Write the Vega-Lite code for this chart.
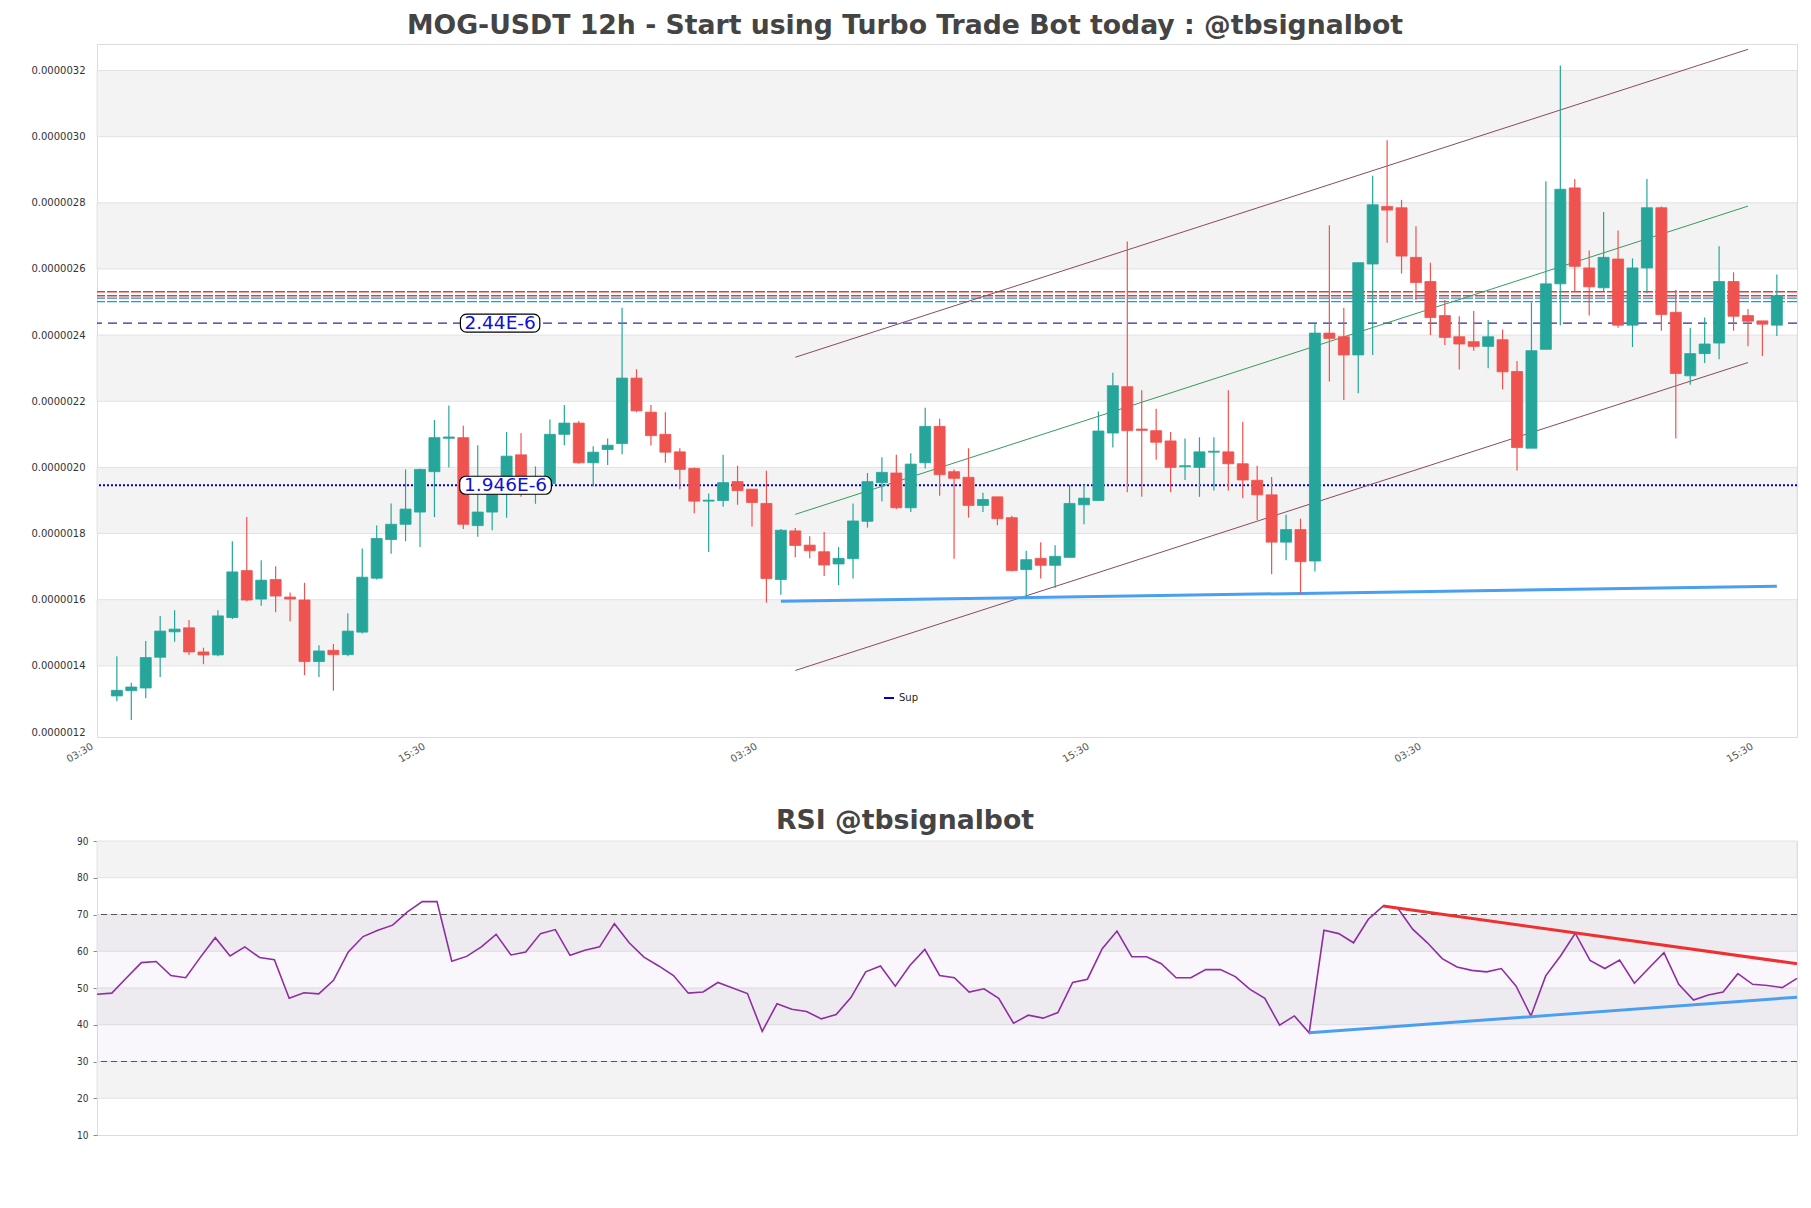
{
  "$schema": "https://vega.github.io/schema/vega-lite/v6.json",
  "background": "white",
  "padding": {"left": 30, "top": 12, "right": 10, "bottom": 5},
  "spacing": 42,
  "config": {
    "view": {"stroke": "#dcdcdc", "strokeWidth": 1},
    "font": "DejaVu Sans",
    "axis": {"grid": false, "domain": false, "title": null}
  },
  "resolve": {"scale": {"x": "independent", "y": "independent", "color": "independent"}},
  "datasets": {
    "candles": [
      {"i":0,"o":13.09e-7,"h":14.29e-7,"l":12.93e-7,"c":13.26e-7},
      {"i":1,"o":13.25e-7,"h":13.49e-7,"l":12.36e-7,"c":13.36e-7},
      {"i":2,"o":13.33e-7,"h":14.75e-7,"l":13.02e-7,"c":14.25e-7},
      {"i":3,"o":14.26e-7,"h":15.51e-7,"l":13.66e-7,"c":15.05e-7},
      {"i":4,"o":15.03e-7,"h":15.68e-7,"l":14.73e-7,"c":15.11e-7},
      {"i":5,"o":15.15e-7,"h":15.39e-7,"l":14.33e-7,"c":14.42e-7},
      {"i":6,"o":14.42e-7,"h":14.55e-7,"l":14.05e-7,"c":14.33e-7},
      {"i":7,"o":14.33e-7,"h":15.68e-7,"l":14.29e-7,"c":15.51e-7},
      {"i":8,"o":15.46e-7,"h":17.77e-7,"l":15.42e-7,"c":16.84e-7},
      {"i":9,"o":16.88e-7,"h":18.5e-7,"l":15.95e-7,"c":15.99e-7},
      {"i":10,"o":16.02e-7,"h":17.19e-7,"l":15.82e-7,"c":16.59e-7},
      {"i":11,"o":16.61e-7,"h":17.01e-7,"l":15.62e-7,"c":16.11e-7},
      {"i":12,"o":16.08e-7,"h":16.22e-7,"l":15.35e-7,"c":16.02e-7},
      {"i":13,"o":15.99e-7,"h":16.51e-7,"l":13.72e-7,"c":14.13e-7},
      {"i":14,"o":14.13e-7,"h":14.62e-7,"l":13.66e-7,"c":14.45e-7},
      {"i":15,"o":14.47e-7,"h":14.66e-7,"l":13.25e-7,"c":14.34e-7},
      {"i":16,"o":14.34e-7,"h":15.59e-7,"l":14.29e-7,"c":15.05e-7},
      {"i":17,"o":15.02e-7,"h":17.55e-7,"l":14.98e-7,"c":16.68e-7},
      {"i":18,"o":16.65e-7,"h":18.24e-7,"l":16.61e-7,"c":17.85e-7},
      {"i":19,"o":17.82e-7,"h":18.91e-7,"l":17.39e-7,"c":18.28e-7},
      {"i":20,"o":18.28e-7,"h":19.94e-7,"l":17.77e-7,"c":18.74e-7},
      {"i":21,"o":18.65e-7,"h":19.96e-7,"l":17.59e-7,"c":19.94e-7},
      {"i":22,"o":19.87e-7,"h":21.43e-7,"l":18.5e-7,"c":20.9e-7},
      {"i":23,"o":20.88e-7,"h":21.87e-7,"l":20.0e-7,"c":20.92e-7},
      {"i":24,"o":20.9e-7,"h":21.26e-7,"l":18.14e-7,"c":18.28e-7},
      {"i":25,"o":18.24e-7,"h":20.67e-7,"l":17.9e-7,"c":18.65e-7},
      {"i":26,"o":18.65e-7,"h":19.3e-7,"l":18.1e-7,"c":19.18e-7},
      {"i":27,"o":19.18e-7,"h":21.07e-7,"l":18.48e-7,"c":20.34e-7},
      {"i":28,"o":20.38e-7,"h":21.03e-7,"l":19.11e-7,"c":19.2e-7},
      {"i":29,"o":19.43e-7,"h":20.03e-7,"l":18.9e-7,"c":19.6e-7},
      {"i":30,"o":19.51e-7,"h":21.45e-7,"l":19.47e-7,"c":21.0e-7},
      {"i":31,"o":21.0e-7,"h":21.89e-7,"l":20.67e-7,"c":21.34e-7},
      {"i":32,"o":21.34e-7,"h":21.4e-7,"l":20.11e-7,"c":20.14e-7},
      {"i":33,"o":20.14e-7,"h":20.64e-7,"l":19.43e-7,"c":20.46e-7},
      {"i":34,"o":20.54e-7,"h":20.87e-7,"l":20.07e-7,"c":20.67e-7},
      {"i":35,"o":20.72e-7,"h":24.83e-7,"l":20.4e-7,"c":22.7e-7},
      {"i":36,"o":22.7e-7,"h":22.97e-7,"l":21.67e-7,"c":21.71e-7},
      {"i":37,"o":21.67e-7,"h":21.89e-7,"l":20.66e-7,"c":20.96e-7},
      {"i":38,"o":21.0e-7,"h":21.67e-7,"l":20.14e-7,"c":20.46e-7},
      {"i":39,"o":20.47e-7,"h":20.58e-7,"l":19.34e-7,"c":19.94e-7},
      {"i":40,"o":19.97e-7,"h":20.0e-7,"l":18.61e-7,"c":18.98e-7},
      {"i":41,"o":18.98e-7,"h":19.21e-7,"l":17.44e-7,"c":19.01e-7},
      {"i":42,"o":19.0e-7,"h":20.38e-7,"l":18.81e-7,"c":19.54e-7},
      {"i":43,"o":19.57e-7,"h":20.05e-7,"l":18.87e-7,"c":19.3e-7},
      {"i":44,"o":19.34e-7,"h":19.34e-7,"l":18.21e-7,"c":18.94e-7},
      {"i":45,"o":18.91e-7,"h":19.9e-7,"l":15.91e-7,"c":16.64e-7},
      {"i":46,"o":16.61e-7,"h":18.14e-7,"l":16.15e-7,"c":18.1e-7},
      {"i":47,"o":18.08e-7,"h":18.17e-7,"l":17.28e-7,"c":17.64e-7},
      {"i":48,"o":17.65e-7,"h":17.92e-7,"l":17.25e-7,"c":17.48e-7},
      {"i":49,"o":17.45e-7,"h":18.05e-7,"l":16.72e-7,"c":17.05e-7},
      {"i":50,"o":17.08e-7,"h":17.59e-7,"l":16.44e-7,"c":17.25e-7},
      {"i":51,"o":17.24e-7,"h":18.91e-7,"l":16.64e-7,"c":18.38e-7},
      {"i":52,"o":18.37e-7,"h":19.83e-7,"l":18.18e-7,"c":19.57e-7},
      {"i":53,"o":19.54e-7,"h":20.31e-7,"l":18.98e-7,"c":19.85e-7},
      {"i":54,"o":19.83e-7,"h":20.38e-7,"l":18.74e-7,"c":18.78e-7},
      {"i":55,"o":18.78e-7,"h":20.43e-7,"l":18.65e-7,"c":20.1e-7},
      {"i":56,"o":20.14e-7,"h":21.8e-7,"l":19.97e-7,"c":21.24e-7},
      {"i":57,"o":21.24e-7,"h":21.47e-7,"l":19.14e-7,"c":19.78e-7},
      {"i":58,"o":19.87e-7,"h":19.94e-7,"l":17.24e-7,"c":19.67e-7},
      {"i":59,"o":19.7e-7,"h":20.58e-7,"l":18.48e-7,"c":18.85e-7},
      {"i":60,"o":18.85e-7,"h":19.23e-7,"l":18.65e-7,"c":19.03e-7},
      {"i":61,"o":19.11e-7,"h":19.11e-7,"l":18.25e-7,"c":18.45e-7},
      {"i":62,"o":18.48e-7,"h":18.54e-7,"l":16.85e-7,"c":16.88e-7},
      {"i":63,"o":16.91e-7,"h":17.48e-7,"l":16.08e-7,"c":17.21e-7},
      {"i":64,"o":17.25e-7,"h":17.74e-7,"l":16.64e-7,"c":17.04e-7},
      {"i":65,"o":17.04e-7,"h":17.65e-7,"l":16.35e-7,"c":17.31e-7},
      {"i":66,"o":17.28e-7,"h":19.47e-7,"l":17.28e-7,"c":18.91e-7},
      {"i":67,"o":18.87e-7,"h":19.47e-7,"l":18.28e-7,"c":19.07e-7},
      {"i":68,"o":19.0e-7,"h":21.69e-7,"l":19.0e-7,"c":21.1e-7},
      {"i":69,"o":21.04e-7,"h":22.86e-7,"l":20.6e-7,"c":22.47e-7},
      {"i":70,"o":22.44e-7,"h":26.83e-7,"l":19.25e-7,"c":21.11e-7},
      {"i":71,"o":21.16e-7,"h":22.33e-7,"l":19.11e-7,"c":21.12e-7},
      {"i":72,"o":21.11e-7,"h":21.77e-7,"l":20.23e-7,"c":20.76e-7},
      {"i":73,"o":20.8e-7,"h":21.07e-7,"l":19.25e-7,"c":20.0e-7},
      {"i":74,"o":20.02e-7,"h":20.87e-7,"l":19.62e-7,"c":20.05e-7},
      {"i":75,"o":20.0e-7,"h":20.91e-7,"l":19.11e-7,"c":20.47e-7},
      {"i":76,"o":20.46e-7,"h":20.91e-7,"l":19.3e-7,"c":20.49e-7},
      {"i":77,"o":20.47e-7,"h":22.33e-7,"l":19.3e-7,"c":20.11e-7},
      {"i":78,"o":20.11e-7,"h":21.38e-7,"l":19.07e-7,"c":19.62e-7},
      {"i":79,"o":19.61e-7,"h":20.05e-7,"l":18.41e-7,"c":19.17e-7},
      {"i":80,"o":19.17e-7,"h":19.71e-7,"l":16.77e-7,"c":17.74e-7},
      {"i":81,"o":17.74e-7,"h":18.57e-7,"l":17.19e-7,"c":18.12e-7},
      {"i":82,"o":18.12e-7,"h":18.45e-7,"l":16.18e-7,"c":17.15e-7},
      {"i":83,"o":17.17e-7,"h":24.39e-7,"l":16.85e-7,"c":24.06e-7},
      {"i":84,"o":24.06e-7,"h":27.32e-7,"l":22.6e-7,"c":23.9e-7},
      {"i":85,"o":23.95e-7,"h":24.83e-7,"l":22.04e-7,"c":23.4e-7},
      {"i":86,"o":23.4e-7,"h":26.19e-7,"l":22.24e-7,"c":26.19e-7},
      {"i":87,"o":26.15e-7,"h":28.82e-7,"l":23.4e-7,"c":27.94e-7},
      {"i":88,"o":27.89e-7,"h":29.89e-7,"l":26.79e-7,"c":27.78e-7},
      {"i":89,"o":27.85e-7,"h":28.09e-7,"l":25.86e-7,"c":26.39e-7},
      {"i":90,"o":26.35e-7,"h":27.29e-7,"l":25.06e-7,"c":25.59e-7},
      {"i":91,"o":25.62e-7,"h":26.19e-7,"l":24.0e-7,"c":24.53e-7},
      {"i":92,"o":24.59e-7,"h":25.06e-7,"l":23.7e-7,"c":23.93e-7},
      {"i":93,"o":23.95e-7,"h":24.57e-7,"l":22.96e-7,"c":23.73e-7},
      {"i":94,"o":23.8e-7,"h":24.73e-7,"l":23.53e-7,"c":23.66e-7},
      {"i":95,"o":23.66e-7,"h":24.46e-7,"l":23.0e-7,"c":23.95e-7},
      {"i":96,"o":23.86e-7,"h":24.17e-7,"l":22.36e-7,"c":22.89e-7},
      {"i":97,"o":22.9e-7,"h":23.22e-7,"l":19.91e-7,"c":20.6e-7},
      {"i":98,"o":20.58e-7,"h":24.99e-7,"l":20.58e-7,"c":23.53e-7},
      {"i":99,"o":23.57e-7,"h":28.65e-7,"l":23.57e-7,"c":25.55e-7},
      {"i":100,"o":25.55e-7,"h":32.15e-7,"l":24.3e-7,"c":28.41e-7},
      {"i":101,"o":28.45e-7,"h":28.72e-7,"l":25.32e-7,"c":26.08e-7},
      {"i":102,"o":26.03e-7,"h":26.56e-7,"l":24.59e-7,"c":25.46e-7},
      {"i":103,"o":25.43e-7,"h":27.72e-7,"l":25.32e-7,"c":26.35e-7},
      {"i":104,"o":26.3e-7,"h":27.16e-7,"l":24.22e-7,"c":24.3e-7},
      {"i":105,"o":24.3e-7,"h":26.32e-7,"l":23.64e-7,"c":26.03e-7},
      {"i":106,"o":26.03e-7,"h":28.72e-7,"l":25.26e-7,"c":27.85e-7},
      {"i":107,"o":27.85e-7,"h":27.89e-7,"l":24.13e-7,"c":24.62e-7},
      {"i":108,"o":24.69e-7,"h":25.36e-7,"l":20.87e-7,"c":22.84e-7},
      {"i":109,"o":22.77e-7,"h":24.22e-7,"l":22.5e-7,"c":23.44e-7},
      {"i":110,"o":23.44e-7,"h":24.53e-7,"l":23.16e-7,"c":23.73e-7},
      {"i":111,"o":23.76e-7,"h":26.69e-7,"l":23.27e-7,"c":25.62e-7},
      {"i":112,"o":25.62e-7,"h":25.9e-7,"l":24.13e-7,"c":24.57e-7},
      {"i":113,"o":24.59e-7,"h":24.79e-7,"l":23.66e-7,"c":24.42e-7},
      {"i":114,"o":24.43e-7,"h":24.43e-7,"l":23.37e-7,"c":24.33e-7},
      {"i":115,"o":24.3e-7,"h":25.83e-7,"l":23.97e-7,"c":25.19e-7}
    ],
    "rsi": [
      {"k":0,"r":48.3},{"k":1,"r":48.6},{"k":2,"r":52.8},{"k":3,"r":56.9},{"k":4,"r":57.2},{"k":5,"r":53.4},{"k":6,"r":52.8},{"k":7,"r":58.4},{"k":8,"r":63.7},{"k":9,"r":58.7},
      {"k":10,"r":61.2},{"k":11,"r":58.3},{"k":12,"r":57.7},{"k":13,"r":47.2},{"k":14,"r":48.7},{"k":15,"r":48.4},{"k":16,"r":52.1},{"k":17,"r":59.8},{"k":18,"r":64.0},{"k":19,"r":65.7},
      {"k":20,"r":67.1},{"k":21,"r":70.7},{"k":22,"r":73.5},{"k":23,"r":73.5},{"k":24,"r":57.3},{"k":25,"r":58.6},{"k":26,"r":61.2},{"k":27,"r":64.6},{"k":28,"r":59.0},{"k":29,"r":59.8},
      {"k":30,"r":64.8},{"k":31,"r":65.9},{"k":32,"r":58.9},{"k":33,"r":60.3},{"k":34,"r":61.2},{"k":35,"r":67.5},{"k":36,"r":62.3},{"k":37,"r":58.4},{"k":38,"r":56.0},{"k":39,"r":53.4},
      {"k":40,"r":48.6},{"k":41,"r":48.9},{"k":42,"r":51.5},{"k":43,"r":50.0},{"k":44,"r":48.5},{"k":45,"r":38.2},{"k":46,"r":45.7},{"k":47,"r":44.2},{"k":48,"r":43.6},{"k":49,"r":41.6},
      {"k":50,"r":42.8},{"k":51,"r":47.4},{"k":52,"r":54.4},{"k":53,"r":56.0},{"k":54,"r":50.5},{"k":55,"r":56.2},{"k":56,"r":60.5},{"k":57,"r":53.4},{"k":58,"r":52.8},{"k":59,"r":48.9},
      {"k":60,"r":49.8},{"k":61,"r":47.2},{"k":62,"r":40.4},{"k":63,"r":42.6},{"k":64,"r":41.8},{"k":65,"r":43.3},{"k":66,"r":51.5},{"k":67,"r":52.4},{"k":68,"r":60.7},{"k":69,"r":65.5},
      {"k":70,"r":58.5},{"k":71,"r":58.5},{"k":72,"r":56.6},{"k":73,"r":52.8},{"k":74,"r":52.8},{"k":75,"r":55.0},{"k":76,"r":55.0},{"k":77,"r":53.1},{"k":78,"r":49.6},{"k":79,"r":47.2},
      {"k":80,"r":39.9},{"k":81,"r":42.4},{"k":82,"r":37.8},{"k":83,"r":65.7},{"k":84,"r":64.8},{"k":85,"r":62.3},{"k":86,"r":68.7},{"k":87,"r":72.3},{"k":88,"r":71.7},{"k":89,"r":66.0},
      {"k":90,"r":62.3},{"k":91,"r":58.0},{"k":92,"r":55.7},{"k":93,"r":54.8},{"k":94,"r":54.4},{"k":95,"r":55.3},{"k":96,"r":50.5},{"k":97,"r":42.4},{"k":98,"r":53.3},{"k":99,"r":58.7},
      {"k":100,"r":64.9},{"k":101,"r":57.5},{"k":102,"r":55.3},{"k":103,"r":57.6},{"k":104,"r":51.3},{"k":105,"r":55.5},{"k":106,"r":59.6},{"k":107,"r":51.0},{"k":108,"r":46.7},{"k":109,"r":48.1},
      {"k":110,"r":48.9},{"k":111,"r":53.9},{"k":112,"r":51.0},{"k":113,"r":50.7},{"k":114,"r":50.1},{"k":115,"r":52.6}
    ],
    "bandsTop": [
      {"lo":30e-7,"hi":32e-7},{"lo":26e-7,"hi":28e-7},{"lo":22e-7,"hi":24e-7},{"lo":18e-7,"hi":20e-7},{"lo":14e-7,"hi":16e-7}
    ],
    "levels": [
      {"value":25.31e-7,"kind":"res"},{"value":25.19e-7,"kind":"res"},
      {"value":25.12e-7,"kind":"sup2"},{"value":25.01e-7,"kind":"sup2"},
      {"value":24.36e-7,"kind":"dash"},
      {"value":19.46e-7,"kind":"dot","legend":"Sup"}
    ],
    "labels": [
      {"value":24.36e-7,"label":"2.44E-6","x0":23.8,"x1":29.3,"xc":26.55},
      {"value":19.46e-7,"label":"1.946E-6","x0":23.75,"x1":30.1,"xc":26.93}
    ],
    "channels": [
      {"line":"up","x":47,"y":23.33e-7},{"line":"up","x":113,"y":32.64e-7},
      {"line":"low","x":47,"y":13.86e-7},{"line":"low","x":113,"y":23.17e-7},
      {"line":"mid","x":47,"y":18.58e-7},{"line":"mid","x":113,"y":27.9e-7},
      {"line":"sup","x":46,"y":15.95e-7},{"line":"sup","x":115,"y":16.41e-7}
    ],
    "bandsRsi": [
      {"lo":80,"hi":90},{"lo":60,"hi":70},{"lo":40,"hi":50},{"lo":20,"hi":30}
    ],
    "rsiZone": [{"lo":30,"hi":70}],
    "rsiLevels": [{"v":70},{"v":30}],
    "rsiTrend": [
      {"line":"down","k":87,"r":72.3},{"line":"down","k":115,"r":56.6},
      {"line":"upt","k":82,"r":37.8},{"line":"upt","k":115,"r":47.5}
    ]
  },
  "vconcat": [
    {
      "width": 1700,
      "height": 693,
      "title": {"text": "MOG-USDT 12h - Start using Turbo Trade Bot today : @tbsignalbot", "font": "DejaVu Sans", "fontSize": 26.7, "fontWeight": "bold", "color": "#444444", "anchor": "middle", "frame": "group", "dx": -42, "offset": 4},
      "layer": [
        {
          "data": {"name": "bandsTop"},
          "mark": {"type": "rect", "fill": "#f3f3f3", "stroke": "#e2e2e2", "strokeWidth": 1},
          "encoding": {
            "y": {"field": "lo", "type": "quantitative", "scale": {"domain": [12e-7, 32.65e-7], "nice": false, "zero": false},
                  "axis": {"values": [12e-7,14e-7,16e-7,18e-7,20e-7,22e-7,24e-7,26e-7,28e-7,30e-7,32e-7], "format": ".7f", "labelFontSize": 10, "labelColor": "#333333", "ticks": false, "labelPadding": 12}},
            "y2": {"field": "hi"}
          }
        },
        {
          "data": {"name": "levels"},
          "transform": [{"filter": "datum.kind == 'res'"}],
          "mark": {"type": "rule", "stroke": "#e23c3c", "strokeWidth": 1.3, "strokeDash": [10, 2]},
          "encoding": {"y": {"field": "value", "type": "quantitative"}}
        },
        {
          "data": {"name": "levels"},
          "transform": [{"filter": "datum.kind == 'sup2'"}],
          "mark": {"type": "rule", "stroke": "#1f97d8", "strokeWidth": 1.3, "strokeDash": [10, 2]},
          "encoding": {"y": {"field": "value", "type": "quantitative"}}
        },
        {
          "data": {"name": "levels"},
          "transform": [{"filter": "datum.kind == 'dash'"}],
          "mark": {"type": "rule", "stroke": "#2a2aa8", "strokeWidth": 1.2, "strokeDash": [9, 6]},
          "encoding": {"y": {"field": "value", "type": "quantitative"}}
        },
        {
          "data": {"name": "levels"},
          "transform": [{"filter": "datum.kind == 'dot'"}],
          "mark": {"type": "rule", "strokeWidth": 2, "strokeDash": [2, 2]},
          "encoding": {
            "y": {"field": "value", "type": "quantitative"},
            "color": {"field": "legend", "type": "nominal", "scale": {"range": ["#0000c8"]},
                      "legend": {"orient": "none", "legendX": 786, "legendY": 648, "title": null, "symbolType": "stroke", "symbolStrokeWidth": 2, "symbolDash": [1, 0], "symbolSize": 100, "labelFontSize": 10, "labelColor": "#222222"}}
          }
        },
        {
          "data": {"name": "channels"},
          "transform": [{"filter": "datum.line == 'up' || datum.line == 'low'"}],
          "mark": {"type": "line", "stroke": "#8c4a5e", "strokeWidth": 1},
          "encoding": {
            "x": {"field": "x", "type": "quantitative"},
            "y": {"field": "y", "type": "quantitative"},
            "detail": {"field": "line"}
          }
        },
        {
          "data": {"name": "channels"},
          "transform": [{"filter": "datum.line == 'mid'"}],
          "mark": {"type": "line", "stroke": "#3a9a5c", "strokeWidth": 1},
          "encoding": {
            "x": {"field": "x", "type": "quantitative"},
            "y": {"field": "y", "type": "quantitative"}
          }
        },
        {
          "data": {"name": "channels"},
          "transform": [{"filter": "datum.line == 'sup'"}],
          "mark": {"type": "line", "stroke": "#4a9ff0", "strokeWidth": 3},
          "encoding": {
            "x": {"field": "x", "type": "quantitative"},
            "y": {"field": "y", "type": "quantitative"}
          }
        },
        {
          "data": {"name": "candles"},
          "mark": {"type": "rule", "strokeWidth": 1.2},
          "encoding": {
            "x": {"field": "i", "type": "quantitative", "scale": {"domain": [-1.03, 116.05], "nice": false, "zero": false},
                  "axis": {"values": [-1, 22, 45, 68, 91, 114], "labelExpr": "(datum.value + 1) % 46 == 0 ? '03:30' : '15:30'", "labelAngle": -30, "labelAlign": "right", "labelBaseline": "top", "labelFontSize": 10, "labelColor": "#555555", "ticks": false, "labelPadding": 4, "labelOffset": -13}},
            "y": {"field": "l", "type": "quantitative"},
            "y2": {"field": "h"},
            "color": {"condition": {"test": "datum.c >= datum.o", "value": "#26a69a"}, "value": "#ef5350"}
          }
        },
        {
          "data": {"name": "candles"},
          "mark": {"type": "bar", "width": 11, "strokeWidth": 0.8},
          "encoding": {
            "x": {"field": "i", "type": "quantitative"},
            "y": {"field": "o", "type": "quantitative"},
            "y2": {"field": "c"},
            "color": {"condition": {"test": "datum.c >= datum.o", "value": "#26a69a"}, "value": "#ef5350"},
            "stroke": {"condition": {"test": "datum.c >= datum.o", "value": "#26a69a"}, "value": "#ef5350"}
          }
        },
        {
          "data": {"name": "labels"},
          "mark": {"type": "bar", "height": 18, "fill": "white", "stroke": "black", "strokeWidth": 1.2, "cornerRadius": 6},
          "encoding": {
            "x": {"field": "x0", "type": "quantitative"},
            "x2": {"field": "x1"},
            "y": {"field": "value", "type": "quantitative"}
          }
        },
        {
          "data": {"name": "labels"},
          "mark": {"type": "text", "fontSize": 18.5, "color": "#1010d8", "align": "center", "baseline": "middle"},
          "encoding": {
            "x": {"field": "xc", "type": "quantitative"},
            "y": {"field": "value", "type": "quantitative"},
            "text": {"field": "label"}
          }
        }
      ]
    },
    {
      "width": 1700,
      "height": 294,
      "title": {"text": "RSI @tbsignalbot", "font": "DejaVu Sans", "fontSize": 26.7, "fontWeight": "bold", "color": "#444444", "anchor": "middle", "frame": "group", "dx": -42, "offset": 1},
      "layer": [
        {
          "data": {"name": "bandsRsi"},
          "mark": {"type": "rect", "fill": "#f3f3f3", "stroke": "#e2e2e2", "strokeWidth": 1},
          "encoding": {
            "y": {"field": "lo", "type": "quantitative", "scale": {"domain": [10, 90], "nice": false, "zero": false},
                  "axis": {"values": [10,20,30,40,50,60,70,80,90], "labelOverlap": false, "labelFontSize": 10, "labelColor": "#333333", "ticks": true, "tickSize": 4, "tickColor": "#888888", "labelPadding": 5, "labelFont": "DejaVu Sans Condensed"}},
            "y2": {"field": "hi"}
          }
        },
        {
          "data": {"name": "rsiZone"},
          "mark": {"type": "rect", "fill": "#b07cc6", "opacity": 0.06},
          "encoding": {
            "y": {"field": "lo", "type": "quantitative",
                  "axis": {"values": [10,20,30,40,50,60,70,80,90], "labelOverlap": false, "labelFontSize": 10, "labelColor": "#333333", "ticks": true, "tickSize": 4, "tickColor": "#888888", "labelPadding": 5, "labelFont": "DejaVu Sans Condensed"}},
            "y2": {"field": "hi"}
          }
        },
        {
          "data": {"name": "rsiLevels"},
          "mark": {"type": "rule", "stroke": "#555555", "strokeWidth": 1.2, "strokeDash": [6, 4]},
          "encoding": {"y": {"field": "v", "type": "quantitative",
                  "axis": {"values": [10,20,30,40,50,60,70,80,90], "labelOverlap": false, "labelFontSize": 10, "labelColor": "#333333", "ticks": true, "tickSize": 4, "tickColor": "#888888", "labelPadding": 5, "labelFont": "DejaVu Sans Condensed"}}}
        },
        {
          "data": {"name": "rsi"},
          "mark": {"type": "line", "stroke": "#8e2ea2", "strokeWidth": 1.6},
          "encoding": {
            "x": {"field": "k", "type": "quantitative", "scale": {"domain": [0, 115], "nice": false, "zero": false}, "axis": null},
            "y": {"field": "r", "type": "quantitative",
                  "axis": {"values": [10,20,30,40,50,60,70,80,90], "labelOverlap": false, "labelFontSize": 10, "labelColor": "#333333", "ticks": true, "tickSize": 4, "tickColor": "#888888", "labelPadding": 5, "labelFont": "DejaVu Sans Condensed"}}
          }
        },
        {
          "data": {"name": "rsiTrend"},
          "transform": [{"filter": "datum.line == 'down'"}],
          "mark": {"type": "line", "stroke": "#f03030", "strokeWidth": 3},
          "encoding": {
            "x": {"field": "k", "type": "quantitative"},
            "y": {"field": "r", "type": "quantitative",
                  "axis": {"values": [10,20,30,40,50,60,70,80,90], "labelOverlap": false, "labelFontSize": 10, "labelColor": "#333333", "ticks": true, "tickSize": 4, "tickColor": "#888888", "labelPadding": 5, "labelFont": "DejaVu Sans Condensed"}}
          }
        },
        {
          "data": {"name": "rsiTrend"},
          "transform": [{"filter": "datum.line == 'upt'"}],
          "mark": {"type": "line", "stroke": "#4a9ff0", "strokeWidth": 3},
          "encoding": {
            "x": {"field": "k", "type": "quantitative"},
            "y": {"field": "r", "type": "quantitative",
                  "axis": {"values": [10,20,30,40,50,60,70,80,90], "labelOverlap": false, "labelFontSize": 10, "labelColor": "#333333", "ticks": true, "tickSize": 4, "tickColor": "#888888", "labelPadding": 5, "labelFont": "DejaVu Sans Condensed"}}
          }
        }
      ]
    }
  ]
}
